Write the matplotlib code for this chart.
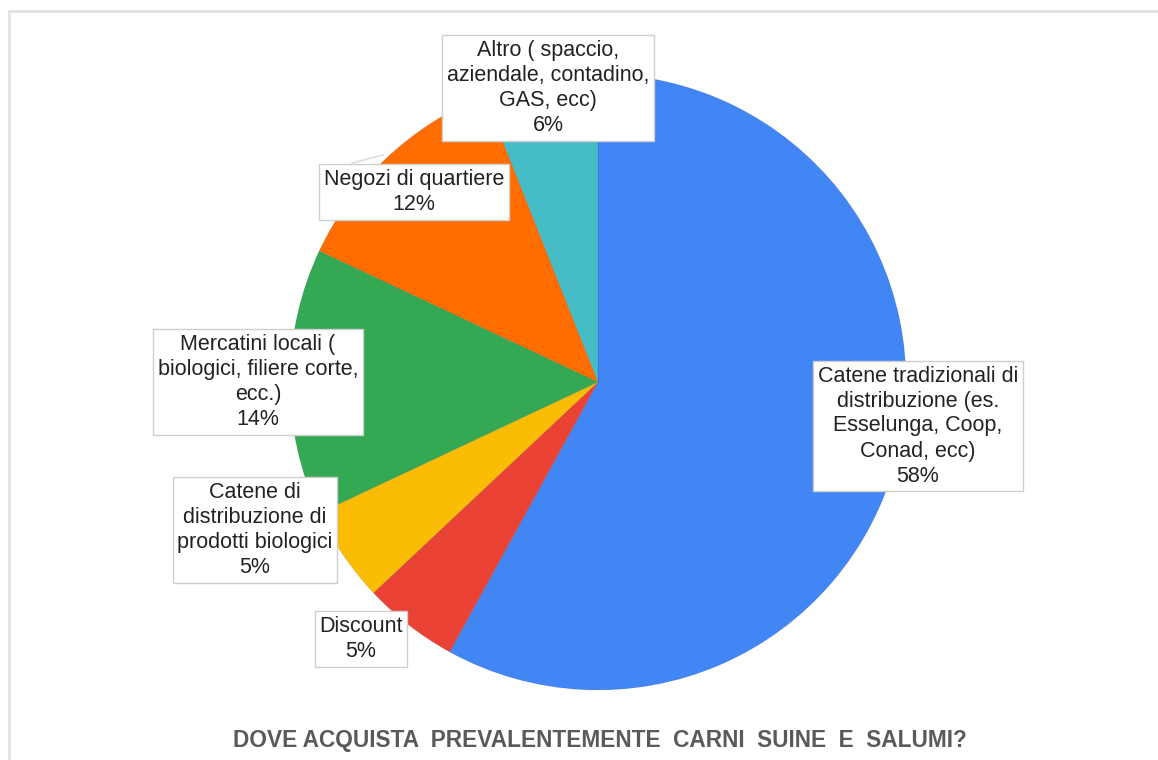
import matplotlib.pyplot as plt
from matplotlib.lines import Line2D

plt.rcParams['font.family'] = ['Liberation Sans', 'DejaVu Sans']

# dati del grafico
categorie = [
    'Catene tradizionali di\ndistribuzione (es.\nEsselunga, Coop,\nConad, ecc)',
    'Discount',
    'Catene di\ndistribuzione di\nprodotti biologici',
    'Mercatini locali (\nbiologici, filiere corte,\necc.)',
    'Negozi di quartiere',
    'Altro ( spaccio,\naziendale, contadino,\nGAS, ecc)',
]
percentuali = [58, 5, 5, 14, 12, 6]
colori = ['#4285F4', '#EA4335', '#FBBC04', '#34A853', '#FF6D01', '#46BDC6']
titolo = 'DOVE ACQUISTA  PREVALENTEMENTE  CARNI  SUINE  E  SALUMI?'

# posizione delle etichette (pixel, origine in alto a sinistra)
pos_etichette = [(918, 426), (361, 639), (255, 530), (258, 382), (414, 192), (548, 88)]

W, H = 1158, 760
fig = plt.figure(figsize=(W / 100, H / 100), dpi=100, facecolor='white')
ax = fig.add_axes([0, 0, 1, 1], frameon=False)
ax.set_xlim(0, W)
ax.set_ylim(0, H)
ax.set_aspect('equal')
ax.set_xticks([])
ax.set_yticks([])

# torta, in senso orario partendo dall'alto
ax.pie(percentuali, colors=colori, startangle=90, counterclock=False,
       center=(598, H - 382), radius=308,
       wedgeprops=dict(linewidth=0.6, edgecolor='#00000018'))
ax.set_xlim(0, W)
ax.set_ylim(0, H)

# linea guida per "Negozi di quartiere"
ax.plot([352, 383], [H - 163, H - 155], color='#dddddd', lw=1.2, zorder=3)

for testo, val, (x, y) in zip(categorie, percentuali, pos_etichette):
    ax.text(x, H - y, f'{testo}\n{val}%', ha='center', va='center',
            fontsize=15.5, color='#222222', linespacing=1.25, zorder=5,
            bbox=dict(boxstyle='square,pad=0.22', facecolor='white',
                      edgecolor='#cfcfcf', linewidth=1))

# titolo
ax.text(600, H - 740, titolo, ha='center', va='center', fontsize=16.3,
        color='#5a5a5a', fontweight='bold')

# cornice grigia chiara
fig.add_artist(Line2D([9 / W, 1], [1 - 11 / H, 1 - 11 / H], color='#e2e2e2', lw=2))
fig.add_artist(Line2D([9 / W, 9 / W], [0, 1 - 11 / H], color='#e2e2e2', lw=2))

fig.savefig('out.png', dpi=100, facecolor='white')
